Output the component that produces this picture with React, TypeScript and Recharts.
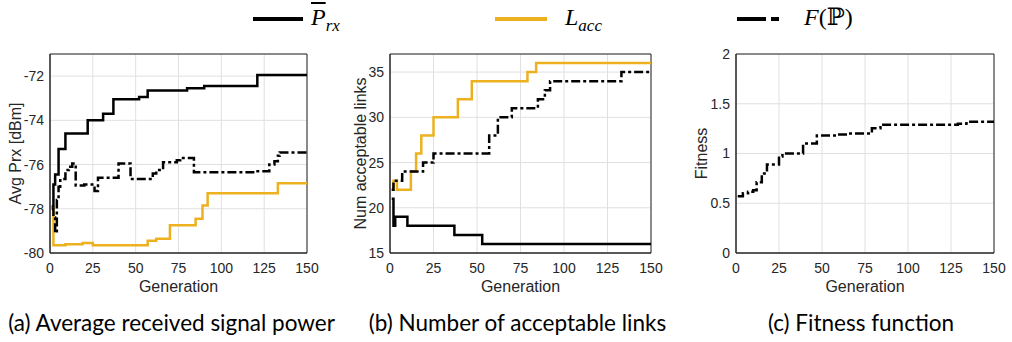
import React from 'react';
import { LineChart, Line, XAxis, YAxis, CartesianGrid, ReferenceArea } from 'recharts';

// generation axis, shared by all three panels
const genTicks = [0, 25, 50, 75, 100, 125, 150];

// (a) average received signal power [dBm]
const aPrxGen = [1, 2, 3, 5, 9, 22, 31, 37, 52, 57, 80, 90, 121, 150];
const aPrxVal = [-77.9, -76.9, -76.45, -75.3, -74.6, -74.0, -73.7, -73.05, -72.95, -72.65, -72.55, -72.45, -71.95, -71.95];
const aLaccGen = [1, 2, 9, 19, 25, 57, 62, 70, 85, 89, 92, 133, 150];
const aLaccVal = [-77.9, -79.65, -79.6, -79.55, -79.65, -79.45, -79.35, -78.75, -78.45, -77.85, -77.3, -76.85, -76.85];
const aFitGen = [1, 2, 3, 4, 5, 6, 9, 11, 13, 15, 20, 26, 28, 40, 47, 60, 62, 66, 74, 76, 84, 120, 128, 131, 133, 134, 150];
const aFitVal = [-78, -78.4, -79.1, -77.6, -77.0, -76.65, -76.25, -76.1, -75.95, -76.95, -76.9, -77.2, -76.6, -75.95, -76.65, -76.4, -76.25, -75.9, -75.8, -75.7, -76.35, -76.3, -76.0, -75.85, -75.6, -75.45, -75.45];
const aTicks = [-80, -78, -76, -74, -72];

// (b) number of acceptable links
const bPrxGen = [1, 2, 3, 10, 37, 53, 150];
const bPrxVal = [21, 18, 19, 18, 17, 16, 16];
const bLaccGen = [1, 2, 4, 12, 15, 18, 25, 39, 47, 79, 84, 150];
const bLaccVal = [22, 23, 22, 24, 26, 28, 30, 32, 34, 35, 36, 36];
const bFitGen = [1, 2, 7, 19, 25, 57, 62, 70, 85, 89, 92, 133, 150];
const bFitVal = [22, 23, 24, 25, 26, 28, 30, 31, 32, 33, 34, 35, 35];
const bTicks = [15, 20, 25, 30, 35];

// (c) fitness function
const cFitGen = [1, 4, 7, 10, 12, 15, 18, 25, 27, 39, 47, 59, 65, 79, 84, 129, 134, 150];
const cFitVal = [0.57, 0.6, 0.615, 0.63, 0.71, 0.8, 0.89, 0.97, 1.0, 1.1, 1.18, 1.19, 1.2, 1.255, 1.29, 1.3, 1.32, 1.32];
const cTicks = [0, 0.5, 1, 1.5, 2];

const captions = [
  '(a) Average received signal power',
  '(b) Number of acceptable links',
  '(c) Fitness function',
];

const zip = (g: number[], v: number[]) => g.map((x, i) => ({ g: x, v: v[i] }));

const ORANGE = '#EDB120';
const DASHDOT = '9 3 3 3';
const AXIS = '#262626';
const tickStyle = { fill: AXIS, fontSize: 14, fontFamily: '"Liberation Sans", Arial, sans-serif' };

interface Series {
  data: { g: number; v: number }[];
  color: string;
  dash?: string;
}

interface PanelProps {
  left: number;
  width: number;
  marginRight: number;
  yWidth: number;
  yDomain: [number, number];
  yTicks: number[];
  yLabel: string;
  labelOffset: number;
  series: Series[];
}

function Panel({ left, width, marginRight, yWidth, yDomain, yTicks, yLabel, labelOffset, series }: PanelProps) {
  return (
    <div style={{ position: 'absolute', left, top: 40 }}>
      <LineChart width={width} height={260} margin={{ top: 14, right: marginRight, left: 10, bottom: 7 }}>
        <CartesianGrid stroke="#e0e0e0" strokeWidth={1} />
        <XAxis
          type="number"
          dataKey="g"
          domain={[0, 150]}
          ticks={genTicks}
          height={40}
          tickLine={false}
          tickMargin={4}
          axisLine={{ stroke: AXIS }}
          tick={tickStyle}
          label={{ value: 'Generation', position: 'insideBottom', offset: 1, style: { ...tickStyle, fontSize: 16 } }}
        />
        <YAxis
          type="number"
          domain={yDomain}
          ticks={yTicks}
          width={yWidth}
          tickLine={false}
          tickMargin={0}
          axisLine={{ stroke: AXIS }}
          tick={tickStyle}
          label={{ value: yLabel, angle: -90, position: 'insideLeft', offset: labelOffset, style: { ...tickStyle, fontSize: 16, textAnchor: 'middle' } }}
        />
        <ReferenceArea x1={0} x2={150} y1={yDomain[0]} y2={yDomain[1]} fill="none" fillOpacity={0} stroke={AXIS} strokeWidth={1} />
        {series.map((s, i) => (
          <Line
            key={i}
            data={s.data}
            dataKey="v"
            type="stepAfter"
            stroke={s.color}
            strokeWidth={2.5}
            strokeDasharray={s.dash}
            dot={false}
            activeDot={false}
            isAnimationActive={false}
          />
        ))}
      </LineChart>
    </div>
  );
}

const serif = '"Liberation Serif", "DejaVu Serif", serif';

function LegendItem({ x, lineW, textX, color, dash, children }: { x: number; lineW: number; textX: number; color: string; dash?: string; children: React.ReactNode }) {
  return (
    <>
      <svg style={{ position: 'absolute', left: x, top: 15 }} width={lineW} height={8}>
        <line x1={0} y1={4} x2={lineW} y2={4} stroke={color} strokeWidth={4} strokeDasharray={dash} />
      </svg>
      <div style={{ position: 'absolute', left: textX, top: 2, fontFamily: serif, fontSize: 24, lineHeight: '30px', whiteSpace: 'nowrap', color: '#000' }}>
        {children}
      </div>
    </>
  );
}

export default function App() {
  return (
    <div style={{ position: 'absolute', left: 0, top: 0, width: 1012, height: 342, background: '#fff', overflow: 'hidden' }}>
      <LegendItem x={253} lineW={50} textX={311} color="#000">
        <i style={{ textDecoration: 'overline' }}>P</i>
        <sub style={{ fontSize: 17, fontStyle: 'italic' }}>rx</sub>
      </LegendItem>
      <LegendItem x={495} lineW={52} textX={565} color={ORANGE}>
        <i>L</i>
        <sub style={{ fontSize: 17, fontStyle: 'italic' }}>acc</sub>
      </LegendItem>
      <LegendItem x={737} lineW={42} textX={804} color="#000" dash="29 5 8">
        <i>F</i>(ℙ)
      </LegendItem>

      <Panel
        left={0}
        width={330}
        marginRight={23}
        yWidth={40}
        yDomain={[-80, -71]}
        yTicks={aTicks}
        yLabel="Avg Prx [dBm]"
        labelOffset={5}
        series={[
          { data: zip(aLaccGen, aLaccVal), color: ORANGE },
          { data: zip(aFitGen, aFitVal), color: '#000', dash: DASHDOT },
          { data: zip(aPrxGen, aPrxVal), color: '#000' },
        ]}
      />
      <Panel
        left={340}
        width={330}
        marginRight={19}
        yWidth={40}
        yDomain={[15, 37]}
        yTicks={bTicks}
        yLabel="Num acceptable links"
        labelOffset={10}
        series={[
          { data: zip(bLaccGen, bLaccVal), color: ORANGE },
          { data: zip(bFitGen, bFitVal), color: '#000', dash: DASHDOT },
          { data: zip(bPrxGen, bPrxVal), color: '#000' },
        ]}
      />
      <Panel
        left={680}
        width={332}
        marginRight={18}
        yWidth={46}
        yDomain={[0, 2]}
        yTicks={cTicks}
        yLabel="Fitness"
        labelOffset={11}
        series={[{ data: zip(cFitGen, cFitVal), color: '#000', dash: DASHDOT }]}
      />

      {captions.map((c, i) => (
        <div
          key={c}
          style={{
            position: 'absolute',
            left: [171.5, 517.5, 861][i] - 200,
            width: 400,
            top: 308,
            textAlign: 'center',
            fontFamily: 'Lato, "Open Sans", sans-serif',
            fontSize: 22.5,
            lineHeight: '30px',
            color: '#000',
          }}
        >
          {c}
        </div>
      ))}
    </div>
  );
}
